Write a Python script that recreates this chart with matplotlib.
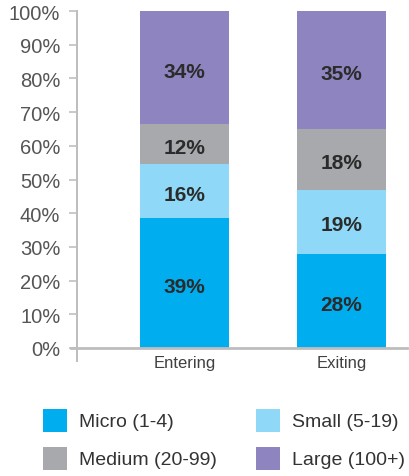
import matplotlib.pyplot as plt
from matplotlib.patches import Rectangle
import numpy as np

categories = ["Entering", "Exiting"]
series = ["Micro (1-4)", "Small (5-19)", "Medium (20-99)", "Large (100+)"]
micro = [39, 28]
small = [16, 19]
medium = [12, 18]
large = [34, 35]
colors = ["#00aeef", "#8fd8f8", "#a7a9ac", "#8e84bf"]

plt.rcParams['font.family'] = ['Liberation Sans', 'DejaVu Sans']

W, H = 409, 477
fig = plt.figure(figsize=(W / 100, H / 100), dpi=100)
ax = fig.add_axes([77 / W, 1 - 349 / H, 330 / W, 337 / H])

vals = np.array([micro, small, medium, large], dtype=float)
shares = vals / vals.sum(axis=0) * 100   # bars stack to 100%
x = np.arange(len(categories))
bottom = np.zeros(len(categories))
for i in range(len(series)):
    ax.bar(x, shares[i], 0.567, bottom=bottom, color=colors[i], linewidth=0)
    for j in range(len(categories)):
        ax.text(x[j], bottom[j] + shares[i][j] / 2 - 1, "%d%%" % vals[i][j],
                ha='center', va='center', fontsize=15, fontweight='bold', color='#2b2b2b')
    bottom += shares[i]

ax.set_xlim(-0.685, 1.417)
ax.set_ylim(0, 100)
ax.set_yticks(np.arange(0, 101, 10))
ax.set_yticklabels(["%d%%" % v for v in range(0, 101, 10)], fontsize=14.5, color='#555555')
ax.set_xticks(x)
ax.set_xticklabels(categories, fontsize=12, color='#404040')
ax.tick_params(axis='y', length=6, width=1.2, color='#c0c0c0', pad=6)
ax.tick_params(axis='x', length=0, pad=5)
for s in ax.spines.values():
    s.set_visible(False)

gray = '#bdbdbd'
ax.plot([0, 0], [1, -13 / 337], transform=ax.transAxes, color=gray, lw=1.4, clip_on=False)
ax.plot([-6 / 330, 1], [0, 0], transform=ax.transAxes, color=gray, lw=2, clip_on=False)

# legend, laid out by hand in two columns
leg_pos = [(43, 410), (256, 410), (43, 448), (256, 448)]
for (px, py), name, c in zip(leg_pos, series, colors):
    fig.add_artist(Rectangle((px / W, 1 - (py + 23) / H), 24 / W, 23 / H,
                             transform=fig.transFigure, color=c, lw=0))
    fig.text((px + 36) / W, 1 - (py + 13) / H, name, fontsize=14,
             color='#333333', va='center', ha='left')

fig.savefig("out.png", dpi=100)
